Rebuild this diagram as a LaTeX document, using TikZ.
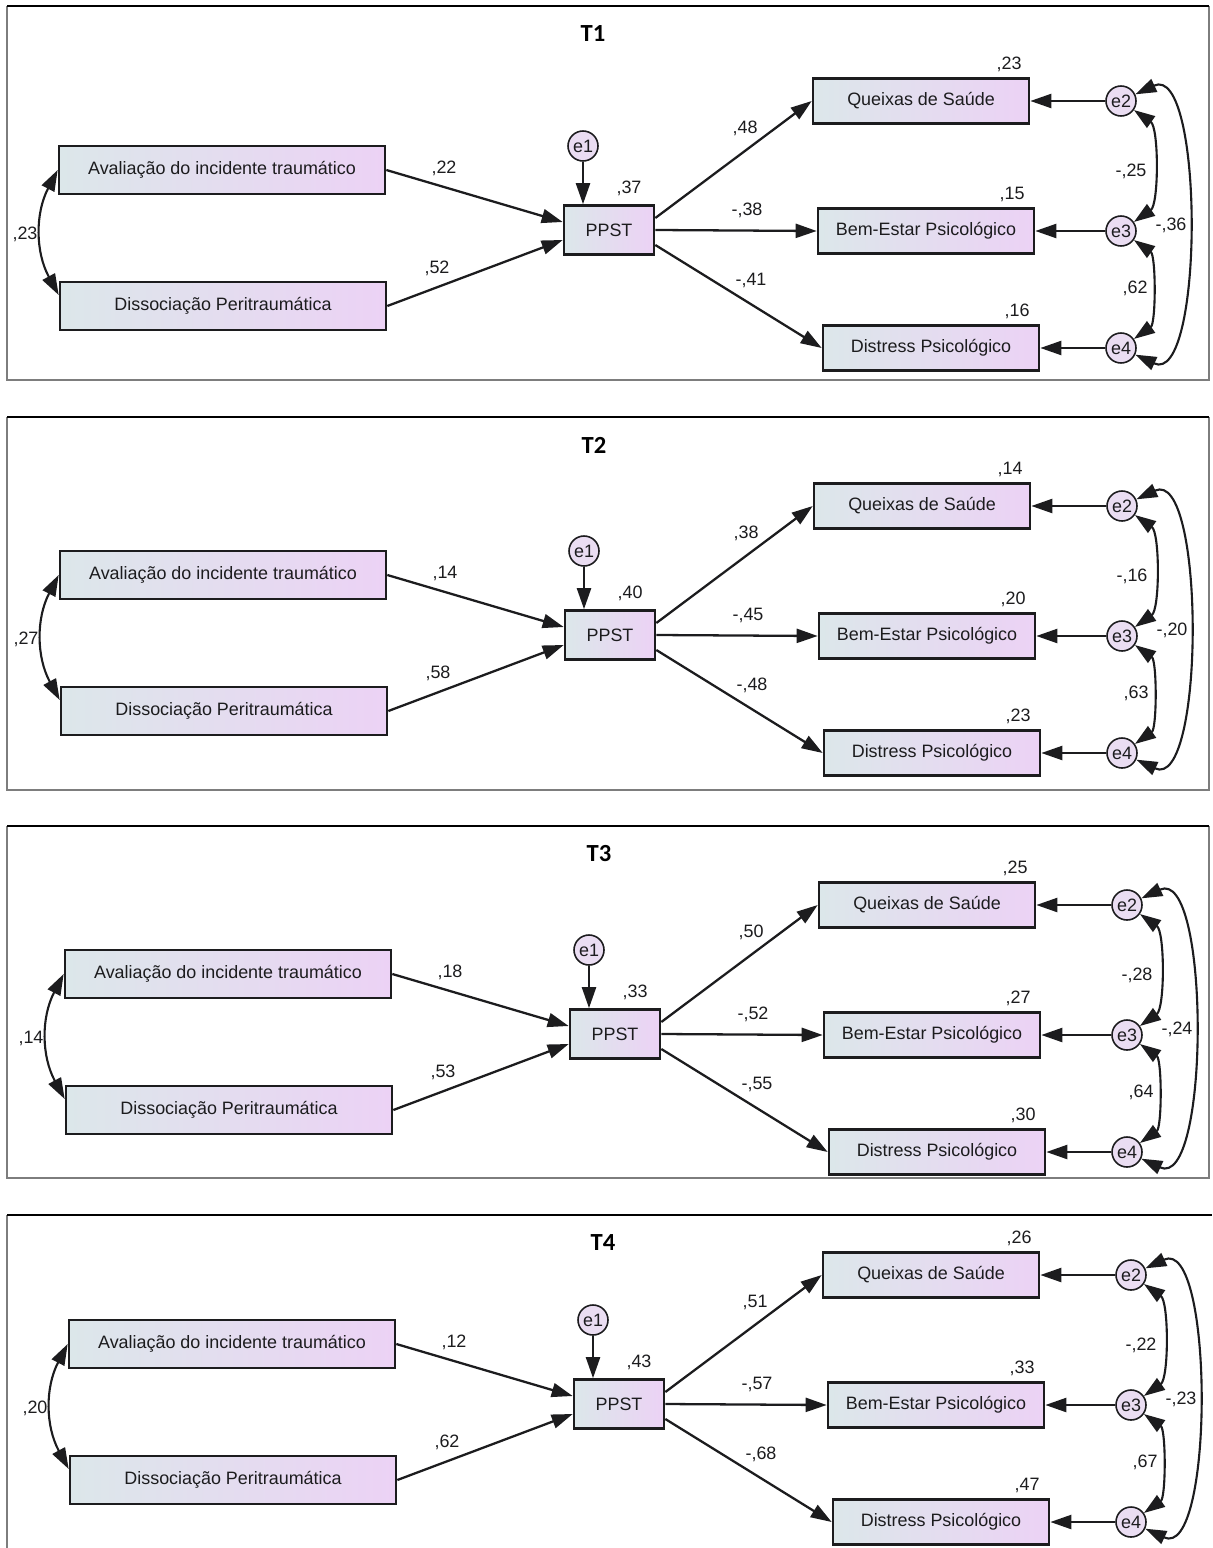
\documentclass[tikz,border=0pt]{standalone}
\usepackage{fontspec}
\setmainfont{Liberation Sans}
\newfontfamily\titlefont{Carlito}
\usetikzlibrary{arrows.meta}
\definecolor{boxleft}{RGB}{220,231,234}
\definecolor{boxright}{RGB}{236,210,245}
\definecolor{errfill}{RGB}{234,221,242}
\definecolor{ink}{RGB}{28,28,30}
\definecolor{rule}{RGB}{125,125,125}
\newcommand\virg{,}
\tikzset{
  >={Triangle[length=4.2mm,width=2.8mm]},
  obs/.style={draw=ink,line width=1.5pt,left color=boxleft,right color=boxright,
    minimum width=#1,minimum height=9mm,inner sep=0pt,text=ink,
    font=\fontsize{10.2}{12}\selectfont},
  obs/.default=43.2mm,
  err/.style={circle,draw=ink,line width=0.9pt,fill=errfill,minimum size=6mm,
    inner sep=0pt,text=ink,font=\fontsize{10.2}{12}\selectfont},
  reg/.style={->,line width=1.3pt,draw=ink},
  cov/.style={<->,line width=1.2pt,draw=ink},
  coef/.style={inner sep=0pt,text=ink,font=\fontsize{10.2}{12}\selectfont},
  ttl/.style={inner sep=0pt,text=black,font=\titlefont\bfseries\fontsize{14}{16}\selectfont},
}
\begin{document}
\begin{tikzpicture}[x=0.2mm,y=-0.2mm]
  \useasboundingbox (0,0) rectangle (1212,1548);
  \foreach \tit/\px/\py/\ftop/\fbot/\cAD/\bA/\bD/\rP/\bQ/\bB/\bX/\rQ/\rB/\rX/\cQB/\cBX/\cQX [count=\k] in {
    T1/609/230/6/380/\virg23/\virg22/\virg52/\virg37/\virg48/-\virg38/-\virg41/\virg23/\virg15/\virg16/-\virg25/\virg62/-\virg36,
    T2/610/635/417/790/\virg27/\virg14/\virg58/\virg40/\virg38/-\virg45/-\virg48/\virg14/\virg20/\virg23/-\virg16/\virg63/-\virg20,
    T3/615/1034/826/1178/\virg14/\virg18/\virg53/\virg33/\virg50/-\virg52/-\virg55/\virg25/\virg27/\virg30/-\virg28/\virg64/-\virg24,
    T4/619/1404/1215/0/\virg20/\virg12/\virg62/\virg43/\virg51/-\virg57/-\virg68/\virg26/\virg33/\virg47/-\virg22/\virg67/-\virg23}
  {
    % frame of the panel
    \ifnum\fbot>0
      \draw[rule,line width=0.7pt] (7,\ftop) -- (7,\fbot) -- (1209,\fbot) -- (1209,\ftop);
      \draw[black,line width=1.1pt] (7,\ftop) -- (1209,\ftop);
    \else
      \draw[rule,line width=0.7pt] (7,\ftop) -- (7,1548);
      \draw[black,line width=1.1pt] (7,\ftop) -- (1212,\ftop);
    \fi
    \node[ttl] (t\k) at (\px-16,\ftop+28) {\tit};
    \begin{scope}[shift={(\px,\py)}]
      \node[obs=65.2mm,minimum height=9.6mm] (av\k) at (-387,-60) {Avaliação do incidente traumático};
      \node[obs=65.2mm,minimum height=9.6mm] (dis\k) at (-386,76) {Dissociação Peritraumática};
      \node[obs=18mm,minimum height=9.8mm] (ppst\k) at (0,0) {PPST};
      \node[obs] (qs\k) at (312,-129) {Queixas de Saúde};
      \node[obs] (be\k) at (317,1) {Bem-Estar Psicológico};
      \node[obs] (dp\k) at (322,118) {Distress Psicológico};
      \node[err] (ea\k) at (-26,-84) {e1};
      \node[err] (eb\k) at (512,-129) {e2};
      \node[err] (ec\k) at (512,1) {e3};
      \node[err] (ed\k) at (512,118) {e4};
      % paths
      \draw[cov] (av\k.west) to[bend right=28] ([yshift=2.2mm]dis\k.west);
      \draw[reg] (av\k.east) -- ([yshift=1.6mm]ppst\k.west);
      \draw[reg] (dis\k.east) -- ([yshift=-2mm]ppst\k.west);
      \draw[reg] (ea\k) -- (ea\k |- ppst\k.north);
      \draw[reg] ([yshift=2.4mm]ppst\k.east) -- (qs\k.west);
      \draw[reg] (ppst\k.east) -- (be\k.west);
      \draw[reg] ([yshift=-3mm]ppst\k.east) -- (dp\k.west);
      \draw[reg] (eb\k) -- (qs\k.east);
      \draw[reg] (ec\k) -- (be\k.east);
      \draw[reg] (ed\k) -- (dp\k.east);
      \draw[cov] (eb\k) to[out=-35,in=35,looseness=0.7] (ec\k);
      \draw[cov] (ec\k) to[out=-35,in=35,looseness=0.7] (ed\k);
      \draw[cov] (eb\k) to[out=25,in=-25,looseness=0.75] (ed\k);
      % estimates
      \node[coef] (kad\k) at (-584,4) {\cAD};
      \node[coef] (ka\k) at (-165,-62) {\bA};
      \node[coef] (kd\k) at (-172,38) {\bD};
      \node[coef] (kp\k) at (20,-42) {\rP};
      \node[coef] (kq\k) at (136,-102) {\bQ};
      \node[coef] (kb\k) at (138,-20) {\bB};
      \node[coef] (kx\k) at (142,50) {\bX};
      \node[coef] (rq\k) at (400,-166) {\rQ};
      \node[coef] (rb\k) at (403,-36) {\rB};
      \node[coef] (rx\k) at (408,81) {\rX};
      \node[coef] (cqb\k) at (522,-59) {\cQB};
      \node[coef] (cbx\k) at (526,58) {\cBX};
      \node[coef] (cqx\k) at (562,-5) {\cQX};
    \end{scope}
  }
\end{tikzpicture}
\end{document}
